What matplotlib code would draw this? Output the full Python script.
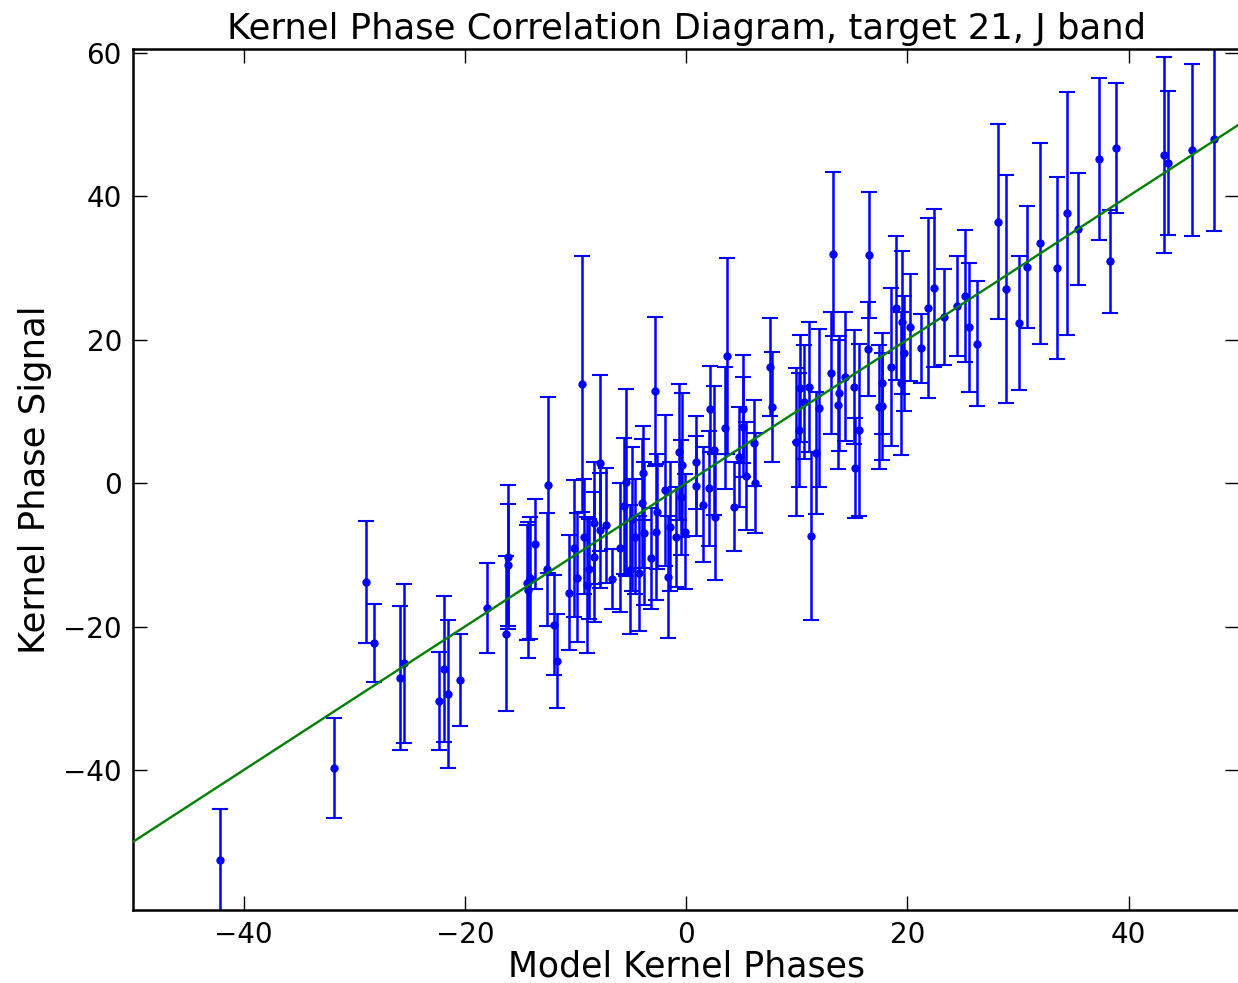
import matplotlib
matplotlib.use("Agg")
import matplotlib.pyplot as plt
import numpy as np

# Model kernel phases (x), measured kernel phase signal (y) and 1-sigma errors
model_kp = [
    -42.1, -31.8, -28.9, -28.2, -25.9, -25.5, -22.3, -21.9, -21.5, -20.4,
    -18.0, -16.3, -16.1, -16.1, -14.4, -14.3, -14.1, -13.7, -12.5, -12.6,
    -11.9, -11.7, -9.4, -10.6, -10.1, -9.9, -9.2, -9.0, -8.3, -7.8,
    -7.8, -8.3, -7.2, -6.7, -5.6, -5.4, -5.1, -4.3, -4.0, -3.9,
    -3.8, -2.8, -2.6, -2.7, -1.9, -1.6, -1.5, -0.9, -0.6, -0.4,
    -0.1, 0.9, 0.9, 2.2, 2.1, 2.5, 2.6, 3.7, 3.5, 4.3,
    4.8, 5.1, 5.1, 5.4, 6.1, 6.2, 7.6, 7.8, 9.9, 10.2,
    10.3, 10.7, 11.1, 11.3, 11.7, 12.0, 13.1, 13.3, 13.7, 13.8,
    14.4, 15.2, 15.3, 15.6, 16.4, 16.5, 17.4, 17.7, 17.7, 18.5,
    19.0, 19.5, 20.2, 19.7, 19.4, 21.2, 21.9, 22.4, 23.3, 24.5,
    25.2, 25.6, 26.3, 28.2, 28.9, 30.1, 30.8, 32.0, 33.5, 34.4,
    35.4, 37.3, 38.3, 38.9, 43.2, 43.6, 45.7, 47.7,
    -6.0, -4.6, -3.2, -0.5, 1.5, -8.8, -4.9,
]
signal_kp = [
    -52.6, -39.7, -13.8, -22.3, -27.2, -25.1, -30.4, -25.9, -29.4, -27.5,
    -17.4, -21.0, -10.3, -11.4, -13.9, -14.9, -13.2, -8.5, -0.3, -12.0,
    -19.8, -24.8, 13.8, -15.3, -9.1, -13.2, -7.5, -14.2, -5.6, 2.8,
    -6.6, -10.3, -5.9, -13.4, -3.2, 0.1, -12.1, -12.6, -2.8, 1.4,
    -7.0, 12.8, -4.0, -6.8, -1.0, -13.1, -6.1, -7.5, 4.3, 2.5,
    -6.8, 2.9, -0.4, 10.3, -0.7, 4.6, -4.7, 17.7, 7.7, -3.3,
    3.6, 10.3, 7.8, 1.0, 5.6, 0.0, 16.2, 10.6, 5.7, 7.4,
    13.2, 11.3, 13.4, -7.4, 4.2, 10.5, 15.3, 31.9, 10.9, 12.5,
    14.8, 13.4, 2.1, 7.4, 18.7, 31.8, 10.6, 10.7, 13.9, 16.2,
    24.4, 22.4, 21.7, 18.1, 13.9, 18.8, 24.4, 27.2, 23.1, 24.7,
    26.1, 21.7, 19.4, 36.4, 27.0, 22.3, 30.1, 33.4, 30.0, 37.6,
    35.4, 45.2, 30.9, 46.7, 45.7, 44.6, 46.4, 47.9,
    -9.0, -7.5, -10.5, -2.0, -3.0, -12.0, -5.0,
]
signal_err = [
    7.2, 7.0, 8.5, 5.4, 10.0, 11.1, 6.8, 10.2, 10.3, 6.4,
    6.3, 10.8, 10.0, 8.5, 8.0, 9.5, 8.5, 6.3, 12.3, 7.9,
    7.0, 6.5, 17.8, 8.0, 9.5, 9.0, 8.0, 9.5, 8.5, 12.2,
    8.0, 9.0, 8.0, 4.2, 9.5, 13.0, 9.0, 8.0, 9.0, 6.5,
    10.0, 10.4, 8.0, 9.5, 10.5, 8.5, 9.0, 7.0, 9.5, 10.0,
    8.0, 6.5, 7.0, 6.0, 8.0, 9.0, 8.8, 13.7, 8.5, 6.2,
    7.0, 7.5, 7.0, 7.5, 6.0, 7.0, 6.8, 7.7, 10.3, 8.0,
    7.5, 8.0, 9.0, 11.7, 8.5, 11.0, 8.5, 11.4, 9.0, 8.0,
    9.0, 8.0, 7.0, 12.0, 6.5, 8.8, 8.7, 7.5, 7.0, 11.0,
    10.0, 10.0, 7.5, 8.0, 10.0, 4.8, 12.5, 11.0, 6.7, 7.0,
    9.2, 9.0, 8.7, 13.6, 15.9, 9.3, 8.5, 14.0, 12.7, 16.9,
    7.8, 11.3, 7.2, 9.1, 13.7, 10.0, 12.0, 12.8,
    9.0, 8.0, 7.0, 8.0, 8.0, 7.0, 10.0,
]

x_range = [-50, 50]

fig = plt.figure(figsize=(12.38, 9.83), dpi=100)
ax = fig.add_axes([133 / 1238, 73 / 983, 1 - 133 / 1238 + 0.001, (910 - 49) / 983])

ax.errorbar(model_kp, signal_kp, yerr=signal_err, fmt='o', color='b',
            ecolor='b', markersize=5, elinewidth=1.8, capsize=5.5,
            capthick=1.5, zorder=2)
ax.plot(x_range, x_range, color='g', linewidth=1.7, zorder=3)

ax.set_xlim(-50, 50)
ax.set_ylim(-59.5, 60.5)
ax.set_xticks([-40, -20, 0, 20, 40])
ax.set_yticks([-40, -20, 0, 20, 40, 60])
ax.tick_params(direction='in', length=10, width=1.0, labelsize=20,
               top=True, right=True, pad=8)
for sp in ax.spines.values():
    sp.set_linewidth(1.8)

ax.set_title("Kernel Phase Correlation Diagram, target 21, J band",
             fontsize=25.5, pad=7)
ax.set_xlabel("Model Kernel Phases", fontsize=25, labelpad=0)
ax.set_ylabel("Kernel Phase Signal", fontsize=25.5, labelpad=8)

fig.savefig("out.png", dpi=100)
